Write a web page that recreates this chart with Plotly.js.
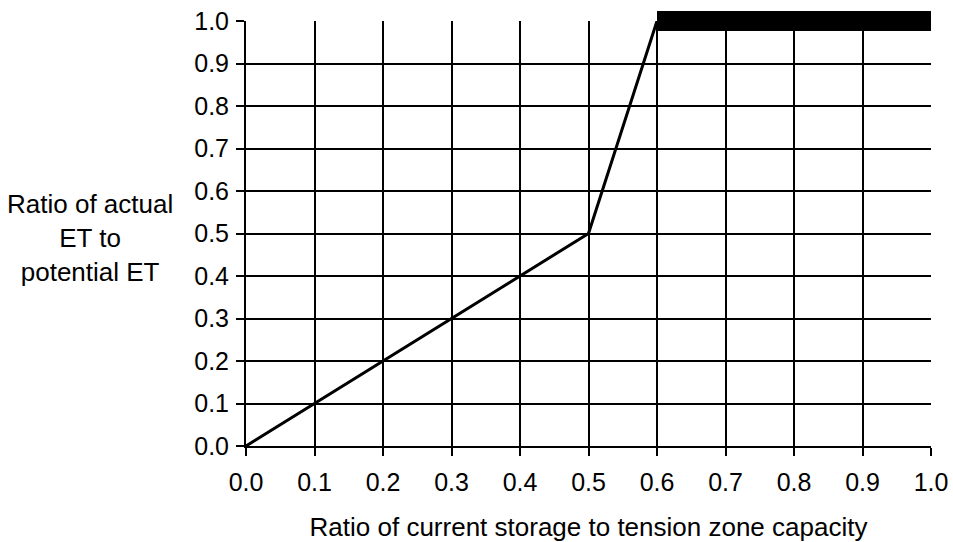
<!DOCTYPE html>
<html>
<head>
<meta charset="utf-8">
<script src="https://cdn.plot.ly/plotly-3.0.1.min.js"></script>
<style>html,body{margin:0;padding:0;background:#fff;}#chart{width:953px;height:542px;}</style>
</head>
<body>
<div id="chart"></div>
<script>
// Data
const rampX = [0.0, 0.5, 0.6];
const rampY = [0.0, 0.5, 1.0];
const plateauX = [0.6, 1.0];
const plateauY = [1.0, 1.0];
const tickVals = [0.0, 0.1, 0.2, 0.3, 0.4, 0.5, 0.6, 0.7, 0.8, 0.9, 1.0];
const tickText = ['0.0','0.1','0.2','0.3','0.4','0.5','0.6','0.7','0.8','0.9','1.0'];
const xTitle = 'Ratio of current storage to tension zone capacity';
const yTitle = 'Ratio of actual<br>ET to<br>potential ET';

const fam = 'Liberation Sans, Arial, sans-serif';
const tickFont = {family: fam, color: '#000', size: 25};
const titleFont = {family: fam, color: '#000', size: 26};

// plot area geometry: main axes domain leaves headroom so the thick plateau isn't clipped
const H = 542, T = 8, B = 96;
const plotH = H - T - B;          // 438
const mainH = 425;                 // pixels from 0.0 to 1.0
const topDomain = mainH / plotH;

const traces = [
  {x: rampX, y: rampY, type: 'scatter', mode: 'lines', line: {color: '#000', width: 3}, hoverinfo: 'skip'},
  {x: plateauX, y: plateauY, xaxis: 'x2', yaxis: 'y2', type: 'scatter', mode: 'lines', line: {color: '#000', width: 20}, hoverinfo: 'skip'}
];

const axisCommon = {
  range: [0, 1],
  tickmode: 'array',
  tickvals: tickVals,
  ticktext: tickText,
  ticks: 'outside',
  ticklen: 8,
  tickwidth: 2,
  tickcolor: '#000',
  showgrid: true,
  gridcolor: '#000',
  gridwidth: 2,
  zeroline: false,
  showline: true,
  linecolor: '#000',
  linewidth: 2,
  tickfont: tickFont,
  fixedrange: true
};

const layout = {
  width: 953,
  height: H,
  margin: {l: 246, r: 22, t: T, b: B},
  paper_bgcolor: '#fff',
  plot_bgcolor: 'rgba(0,0,0,0)',
  showlegend: false,
  font: titleFont,
  xaxis: Object.assign({}, axisCommon, {
    anchor: 'y',
    ticklabelstandoff: 5,
    title: {text: xTitle, font: titleFont, standoff: 24}
  }),
  yaxis: Object.assign({}, axisCommon, {
    anchor: 'x',
    domain: [0, topDomain],
    ticklabelstandoff: 2
  }),
  xaxis2: {range: [0, 1], anchor: 'y2', visible: false, showgrid: false, zeroline: false, fixedrange: true},
  yaxis2: {range: [0, 1 / topDomain], anchor: 'x2', domain: [0, 1], visible: false, showgrid: false, zeroline: false, fixedrange: true},
  annotations: [{
    text: yTitle,
    xref: 'paper', yref: 'y',
    x: -0.228, y: 0.49,
    xanchor: 'center', yanchor: 'middle',
    align: 'center',
    showarrow: false,
    font: titleFont
  }]
};

Plotly.newPlot('chart', traces, layout, {displayModeBar: false, staticPlot: true});
</script>
</body>
</html>
